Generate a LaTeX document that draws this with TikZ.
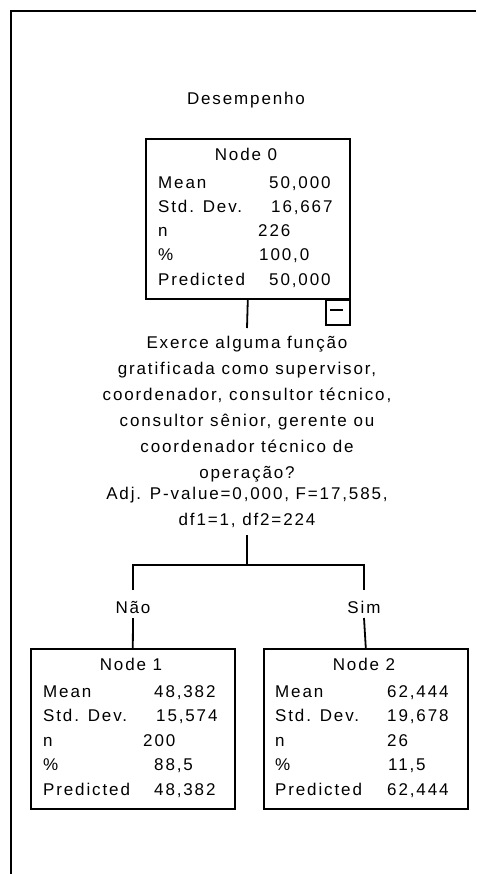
\documentclass[tikz,border=0pt]{standalone}
\usepackage{fontspec}
\setmainfont{Liberation Sans}[LetterSpace=11]
\begin{document}
\begin{tikzpicture}[x=1pt,y=-1pt,
  font=\fontsize{17}{26}\selectfont,
  box/.style={draw, line width=1.6pt, minimum width=204pt, minimum height=160pt,
    inner sep=0pt, anchor=north west},
  txt/.style={anchor=base west, inner sep=0pt},
  ttl/.style={anchor=base, inner sep=0pt},
  wire/.style={line width=1.8pt}]
\useasboundingbox (0,0) rectangle (476,874);

% outer frame (left and top edges)
\coordinate (fbl) at (10.8,874);
\coordinate (ftl) at (10.8,11.2);
\coordinate (ftr) at (476,11.2);
\draw[line width=2.4pt] (fbl) -- (ftl) -- (ftr);

% dependent variable
\node[ttl] (dep) at (246,105) {Desempenho};

% root node
\node[box] (n0) at (145,138) {};
\node[ttl] (n0t) at (246,161) {Node 0};
\node[txt] (n0a) at (158,189) {Mean};
\node[txt] (n0b) at (158,213) {Std. Dev.};
\node[txt] (n0c) at (158,237) {n};
\node[txt] (n0d) at (158,261) {\%};
\node[txt] (n0e) at (158,285) {Predicted};
\node[txt] (n0av) at (269,189) {50,000};
\node[txt] (n0bv) at (271,213) {16,667};
\node[txt] (n0cv) at (258,237) {226};
\node[txt] (n0dv) at (259,261) {100,0};
\node[txt] (n0ev) at (269,285) {50,000};

% collapse toggle
\node[draw, line width=1.6pt, minimum width=24pt, minimum height=24.5pt,
  inner sep=0pt, anchor=north east] (tog) at (n0.south east) {};
\coordinate (togl) at (330,310);
\coordinate (togr) at (343,310);
\draw[line width=1.6pt] (togl) -- (togr);

% split question
\node[align=center, inner sep=0pt, outer ysep=8pt, anchor=north] (q) at (247,328)
  {Exerce alguma função\\
   gratificada como supervisor,\\
   coordenador, consultor técnico,\\
   consultor sênior, gerente ou\\
   coordenador técnico de\\
   operação?\\[-5pt]
   Adj. P-value=0,000, F=17,585,\\
   df1=1, df2=224};

\draw[wire] (n0.south) -- (q.north);

% branches
\coordinate (split) at (247,565);
\coordinate (naoTop) at (133,590);
\coordinate (naoBot) at (133,618);
\coordinate (simTop) at (364,590);
\coordinate (simBot) at (364,618);
\draw[wire] (q.south) -- (split);
\draw[wire] (naoTop) -- (naoTop |- split) -- (simTop |- split) -- (simTop);
\node[ttl] (nao) at (133,613) {Não};
\node[ttl] (sim) at (364,613) {Sim};

% child node 1
\node[box] (n1) at (30,648) {};
\node[ttl] (n1t) at (131,670) {Node 1};
\node[txt] (n1a) at (43,697) {Mean};
\node[txt] (n1b) at (43,721.5) {Std. Dev.};
\node[txt] (n1c) at (43,746) {n};
\node[txt] (n1d) at (43,770.5) {\%};
\node[txt] (n1e) at (43,795) {Predicted};
\node[txt] (n1av) at (154,697) {48,382};
\node[txt] (n1bv) at (156,721.5) {15,574};
\node[txt] (n1cv) at (143,746) {200};
\node[txt] (n1dv) at (154,770.5) {88,5};
\node[txt] (n1ev) at (154,795) {48,382};

% child node 2
\node[box] (n2) at (263,648) {};
\node[ttl] (n2t) at (364,670) {Node 2};
\node[txt] (n2a) at (275,697) {Mean};
\node[txt] (n2b) at (275,721.5) {Std. Dev.};
\node[txt] (n2c) at (275,746) {n};
\node[txt] (n2d) at (275,770.5) {\%};
\node[txt] (n2e) at (275,795) {Predicted};
\node[txt] (n2av) at (387,697) {62,444};
\node[txt] (n2bv) at (387,721.5) {19,678};
\node[txt] (n2cv) at (387,746) {26};
\node[txt] (n2dv) at (388,770.5) {11,5};
\node[txt] (n2ev) at (387,795) {62,444};

\draw[wire] (naoBot) -- (n1.north);
\draw[wire] (simBot) -- (n2.north);
\end{tikzpicture}
\end{document}
